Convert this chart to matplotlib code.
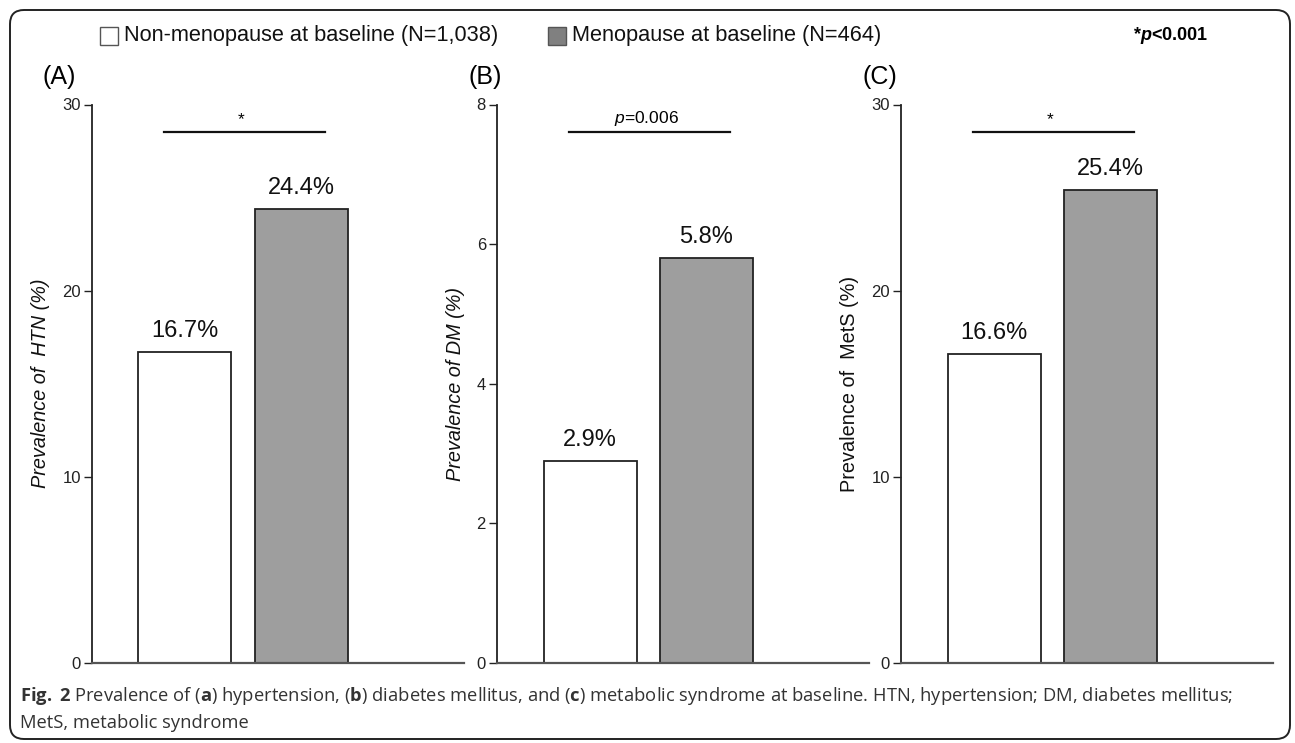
import matplotlib
matplotlib.use('Agg')
import matplotlib.pyplot as plt
from matplotlib import font_manager
from matplotlib.patches import FancyBboxPatch, Rectangle

# data
groups = ['Non-menopause at baseline (N=1,038)', 'Menopause at baseline (N=464)']
panel_tags = ['(A)', '(B)', '(C)']
ylabels = ['Prevalence of  HTN (%)', 'Prevalence of DM (%)', 'Prevalence of  MetS (%)']
htn = [16.7, 24.4]
dm = [2.9, 5.8]
mets = [16.6, 25.4]
ymax = [30, 8, 30]
yticks = [[0, 10, 20, 30], [0, 2, 4, 6, 8], [0, 10, 20, 30]]
sig_labels = ['*', r'$\mathit{p}$=0.006', '*']

installed = {f.name for f in font_manager.fontManager.ttflist}
narrow = 'Liberation Sans Narrow' if 'Liberation Sans Narrow' in installed else 'Liberation Sans'

plt.rcParams['font.family'] = ['Liberation Sans', 'DejaVu Sans']
plt.rcParams['mathtext.fontset'] = 'custom'
plt.rcParams['mathtext.rm'] = 'Liberation Sans'
plt.rcParams['mathtext.it'] = 'Liberation Sans:italic'
plt.rcParams['mathtext.bf'] = 'Open Sans:bold'
plt.rcParams['mathtext.bfit'] = 'Liberation Sans:bold:italic'

W, H = 1295, 743
fig = plt.figure(figsize=(W / 100, H / 100), dpi=100)

# background layer in pixel units: frame, legend, panel tags, caption
bg = fig.add_axes([0, 0, 1, 1])
bg.set_xlim(0, W)
bg.set_ylim(H, 0)
bg.axis('off')
bg.add_patch(FancyBboxPatch((10, 10), 1280, 729, boxstyle='round,pad=0,rounding_size=14',
                            fill=False, lw=1.4, ec='#222222'))

colors = ['white', '#9e9e9e']
legend_x = [100, 548]
for lx, lab, c in zip(legend_x, groups, ['white', '#808080']):
    bg.add_patch(Rectangle((lx, 27), 18, 18, fc=c, ec='#555555', lw=1))
    bg.text(lx + 24, 36, lab, fontsize=15.7, va='center', ha='left', color='#111111')
bg.text(1208, 36, r'*$\mathbfit{p}$<0.001', fontsize=13, fontweight='bold', va='center', ha='right')

tag_x = [59, 485, 880]
for tx, tag in zip(tag_x, panel_tags):
    bg.text(tx, 77, tag, fontsize=18, ha='center', va='center')

cap1 = (r'$\mathbf{Fig.}$ $\mathbf{2}$ Prevalence of ($\mathbf{a}$) hypertension, ($\mathbf{b}$) diabetes mellitus, '
        r'and ($\mathbf{c}$) metabolic syndrome at baseline. HTN, hypertension; DM, diabetes mellitus;')
bg.text(20, 696, cap1, fontsize=13.2, family='Open Sans', color='#333333', va='center', ha='left')
bg.text(20, 723, 'MetS, metabolic syndrome', fontsize=13.2, family='Open Sans', color='#333333',
        va='center', ha='left')

# three bar panels
ax_left = [92, 497, 901]
ax_w = 372
ax_top, ax_bot = 104.5, 663
values = [htn, dm, mets]
xpos = [1.0, 2.25]
label_x = [-0.113, -0.086, -0.113]
label_style = ['italic', 'italic', 'normal']

for i in range(3):
    ax = fig.add_axes([ax_left[i] / W, (H - ax_bot) / H, ax_w / W, (ax_bot - ax_top) / H])
    ax.set_facecolor('none')
    ax.bar(xpos, values[i], width=1.0, color=colors, edgecolor='#222222', linewidth=1.3)
    for x, v in zip(xpos, values[i]):
        ax.annotate(f'{v:.1f}%', (x, v), xytext=(0, 7), textcoords='offset points',
                    ha='center', va='bottom', fontsize=17, color='#111111')
    sy = ymax[i] * 0.95
    ax.plot([xpos[0] - 0.23, xpos[1] + 0.26], [sy, sy], color='#111111', lw=1.6)
    ax.annotate(sig_labels[i], ((xpos[0] + xpos[1]) / 2 - 0.02, sy), xytext=(0, 3.5),
                textcoords='offset points', ha='center', va='bottom', fontsize=12.5)
    ax.set_xlim(0, 4)
    ax.set_ylim(0, ymax[i])
    ax.set_yticks(yticks[i])
    ax.set_yticklabels([str(t) for t in yticks[i]], family=narrow)
    ax.tick_params(axis='x', bottom=False, labelbottom=False)
    ax.tick_params(axis='y', length=6, width=1, labelsize=12, pad=2, colors='#222222')
    for s in ['top', 'right']:
        ax.spines[s].set_visible(False)
    ax.spines['left'].set_linewidth(1.3)
    ax.spines['left'].set_color('#222222')
    ax.spines['bottom'].set_linewidth(1.6)
    ax.spines['bottom'].set_color('#555555')
    ax.set_ylabel(ylabels[i], fontsize=14.3, style=label_style[i], color='#111111')
    ax.yaxis.set_label_coords(label_x[i], 0.5)

fig.savefig('out.png', dpi=100)
